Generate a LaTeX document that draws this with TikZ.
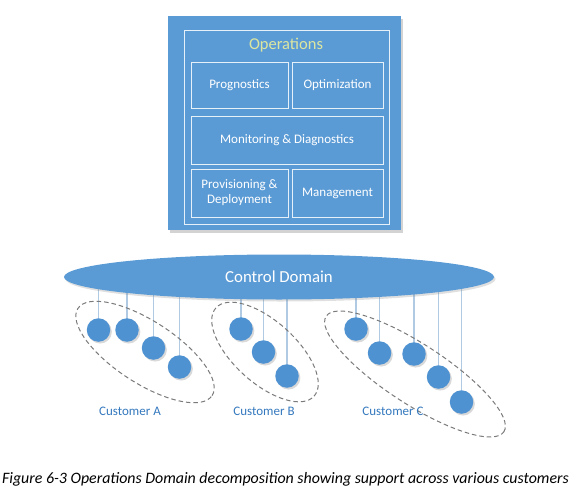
\documentclass[tikz,border=0pt]{standalone}
\usepackage{fontspec}
\setmainfont{Carlito}
\usetikzlibrary{shadows,backgrounds,shapes.geometric}
\definecolor{boxblue}{HTML}{5B9BD5}
\definecolor{nodeblue}{HTML}{4F92D2}
\definecolor{linkblue}{HTML}{B0CAE4}
\definecolor{custblue}{HTML}{3478BE}
\definecolor{opyellow}{HTML}{DCE6A0}
\definecolor{dashgray}{HTML}{7A7A7A}
\tikzset{
  subbox/.style={draw=white!85!boxblue, line width=0.8pt, text=white, font=\fontsize{13}{15}\selectfont, align=center, inner sep=0pt},
  cust/.style={circle, fill=nodeblue, minimum size=23.5pt, inner sep=0pt, drop shadow={shadow xshift=1.6pt, shadow yshift=-1.8pt, opacity=0.3}},
  link/.style={draw=linkblue, line width=1.6pt},
  group/.style={draw=dashgray, dashed, dash pattern=on 4.5pt off 3pt, line width=1pt},
  custlabel/.style={text=custblue, font=\fontsize{13}{15}\selectfont},
}
\begin{document}
\begin{tikzpicture}[x=1pt,y=-1pt]
\useasboundingbox (0,0) rectangle (569,492);
% Operations box
\node[fill=boxblue, minimum width=233pt, minimum height=214pt, inner sep=0pt,
  drop shadow={shadow xshift=2pt, shadow yshift=-3pt, opacity=0.35}] (ops) at (284.5,123) {};
\node[draw=white!85!boxblue, line width=0.8pt, minimum width=205pt, minimum height=194pt, inner sep=0pt] (opsframe) at (286.5,127) {};
\node[text=opyellow, font=\fontsize{16.5}{18}\selectfont] (opstitle) at (286,45) {Operations};
\node[subbox, minimum width=97pt, minimum height=46pt] (prog) at (239.5,85) {Prognostics};
\node[subbox, minimum width=91pt, minimum height=46pt] (optim) at (337.5,85) {Optimization};
\node[subbox, minimum width=192pt, minimum height=48pt] (mon) at (287,140) {Monitoring \& Diagnostics};
\node[subbox, minimum width=97pt, minimum height=48pt] (prov) at (239.5,193) {Provisioning \&\\Deployment};
\node[subbox, minimum width=91pt, minimum height=48pt] (mgmt) at (337.5,193) {Management};
% Control domain
\node[ellipse, fill=boxblue, minimum width=430pt, minimum height=45pt, inner sep=0pt,
  drop shadow={shadow xshift=1.5pt, shadow yshift=-2pt, opacity=0.25},
  text=white, font=\fontsize{16.8}{18}\selectfont] (cd) at (279,277) {Control Domain};
% customers
\node[cust] (a1) at (98.5,330) {};
\node[cust] (a2) at (127,330) {};
\node[cust] (a3) at (153.5,348) {};
\node[cust] (a4) at (179.5,367) {};
\node[cust] (b1) at (241,329) {};
\node[cust] (b2) at (263.5,352) {};
\node[cust] (b3) at (287,376) {};
\node[cust] (c1) at (356,329) {};
\node[cust] (c2) at (379.5,353) {};
\node[cust] (c3) at (414,354) {};
\node[cust] (c4) at (438.5,377) {};
\node[cust] (c5) at (461.5,402) {};
\begin{scope}[on background layer]
\foreach \n in {a1,a2,a3,a4,b1,b2,b3,c1,c2,c3,c4,c5}
  \draw[link] (\n.center) -- (\n.center |- cd.center);
\end{scope}
% groups
\draw[group, shift={(145,352)}, rotate=-33] (0,0) ellipse (80pt and 31pt);
\draw[group, shift={(265,352)}, rotate=-42] (0,0) ellipse (66pt and 31pt);
\draw[group, shift={(415,374)}, rotate=-33] (0,0) ellipse (106pt and 30pt);
\node[custlabel] (la) at (130,411) {Customer A};
\node[custlabel] (lb) at (264,411) {Customer B};
\node[custlabel] (lc) at (393,411) {Customer C};
% caption
\node[font=\fontsize{15.9}{18}\selectfont\itshape] (cap) at (285.5,479) {Figure 6-3 Operations Domain decomposition showing support across various customers};
\end{tikzpicture}
\end{document}
